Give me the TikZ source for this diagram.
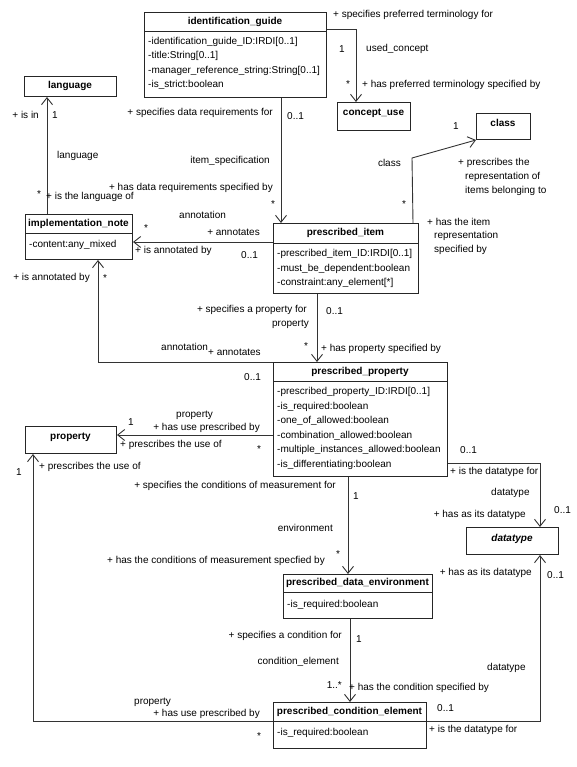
\documentclass[tikz,border=0pt]{standalone}
\usepackage{fontspec}
\setmainfont{Liberation Sans}
\usetikzlibrary{arrows.meta}
\tikzset{
  box/.style={draw=black!85, line width=1pt, anchor=north west, inner sep=0pt, fill=white},
  sep/.style={draw=black!85, line width=1pt},
  ttl/.style={font=\fontsize{10}{12}\selectfont\bfseries, inner sep=0pt},
  att/.style={font=\fontsize{10}{12}\selectfont, inner sep=0pt, anchor=west},
  lbl/.style={font=\fontsize{10}{12}\selectfont, inner sep=0pt, anchor=west},
  lble/.style={font=\fontsize{10}{12}\selectfont, inner sep=0pt, anchor=east},
  conn/.style={draw=black!80, line width=0.9pt},
  arr/.style={conn, -{Straight Barb[length=7pt,width=11pt]}}
}
\begin{document}
\begin{tikzpicture}[x=1pt,y=-1pt]
\useasboundingbox (0,0) rectangle (576,767);
\fill[white] (0,0) rectangle (576,767);

% ---------- boxes ----------
\node[box, minimum width=182pt, minimum height=85pt] (ig) at (144,12) {};
\draw[sep] ([yshift=-20pt]ig.north west) -- ([yshift=-20pt]ig.north east);
\node[ttl] (igt) at (235,22) {identification\_guide};
\node[att] (iga1) at (148,41.5) {-identification\_guide\_ID:IRDI[0..1]};
\node[att] (iga2) at (148,56) {-title:String[0..1]};
\node[att] (iga3) at (148,70.5) {-manager\_reference\_string:String[0..1]};
\node[att] (iga4) at (148,85) {-is\_strict:boolean};

\node[box, minimum width=92pt, minimum height=20pt] (lang) at (24,76) {};
\node[ttl] (langt) at (70,86) {language};

\node[box, minimum width=73pt, minimum height=28pt] (cu) at (337,102) {};
\node[ttl] (cut) at (373.5,113) {concept\_use};

\node[box, minimum width=54pt, minimum height=26pt] (cls) at (476,113) {};
\node[ttl] (clst) at (503,123) {class};

\node[box, minimum width=107pt, minimum height=45pt] (in) at (25,214) {};
\draw[sep] ([yshift=-19pt]in.north west) -- ([yshift=-19pt]in.north east);
\node[ttl] (int) at (78.5,224) {implementation\_note};
\node[att] (ina1) at (29,245) {-content:any\_mixed};

\node[box, minimum width=145pt, minimum height=70pt] (pi) at (273,223) {};
\draw[sep] ([yshift=-20pt]pi.north west) -- ([yshift=-20pt]pi.north east);
\node[ttl] (pit) at (345.5,233) {prescribed\_item};
\node[att] (pia1) at (277,254) {-prescribed\_item\_ID:IRDI[0..1]};
\node[att] (pia2) at (277,268.5) {-must\_be\_dependent:boolean};
\node[att] (pia3) at (277,283) {-constraint:any\_element[*]};

\node[box, minimum width=174pt, minimum height=114pt] (pp) at (273,362) {};
\draw[sep] ([yshift=-19pt]pp.north west) -- ([yshift=-19pt]pp.north east);
\node[ttl] (ppt) at (360,371.5) {prescribed\_property};
\node[att] (ppa1) at (277,392) {-prescribed\_property\_ID:IRDI[0..1]};
\node[att] (ppa2) at (277,406.5) {-is\_required:boolean};
\node[att] (ppa3) at (277,421) {-one\_of\_allowed:boolean};
\node[att] (ppa4) at (277,435.5) {-combination\_allowed:boolean};
\node[att] (ppa5) at (277,450) {-multiple\_instances\_allowed:boolean};
\node[att] (ppa6) at (277,464.5) {-is\_differentiating:boolean};

\node[box, minimum width=91pt, minimum height=27pt] (prop) at (25,426) {};
\node[ttl] (propt) at (70.5,437) {property};

\node[box, minimum width=92pt, minimum height=27pt] (dt) at (466,527) {};
\node[ttl, font=\fontsize{10}{12}\selectfont\bfseries\itshape] (dtt) at (512,539) {datatype};

\node[box, minimum width=149pt, minimum height=44pt] (pde) at (283,574) {};
\draw[sep] ([yshift=-18pt]pde.north west) -- ([yshift=-18pt]pde.north east);
\node[ttl] (pdet) at (357.5,583) {prescribed\_data\_environment};
\node[att] (pdea1) at (287,604.5) {-is\_required:boolean};

\node[box, minimum width=153pt, minimum height=46pt] (pce) at (273,702) {};
\draw[sep] ([yshift=-19pt]pce.north west) -- ([yshift=-19pt]pce.north east);
\node[ttl] (pcet) at (349.5,711.5) {prescribed\_condition\_element};
\node[att] (pcea1) at (277,733) {-is\_required:boolean};

% ---------- connectors ----------
% 1 identification_guide -> concept_use
\draw[arr] ([yshift=-17pt]ig.north east) -| ([xshift=19pt]cu.north west);
% 2 identification_guide -> prescribed_item
\draw[arr] ([xshift=137pt]ig.south west) -- ([xshift=8pt]pi.north west);
% 3 prescribed_item -> class
\coordinate (cbend) at (412,158);
\draw[arr] ([xshift=-6pt]pi.north east) -- (cbend) -- (cls.south west);
% 4 implementation_note -> language
\coordinate (c4) at ([xshift=22pt]in.north west);
\draw[arr] (c4) -- (c4 |- lang.south);
% 5 prescribed_item -> implementation_note
\coordinate (c5) at ([yshift=-19pt]pi.north west);
\draw[arr] (c5) -- (c5 -| in.east);
% 6 prescribed_property -> implementation_note
\coordinate (c6) at ([xshift=73pt]in.south west);
\draw[arr] (pp.north west) -| (c6);
% 7 prescribed_item -> prescribed_property
\draw[arr] ([xshift=44pt]pi.south west) -- ([xshift=44pt]pp.north west);
% 8 prescribed_property -> property
\coordinate (c8) at ([yshift=-73pt]pp.north west);
\draw[arr] (c8) -- (c8 -| prop.east);
% 9 prescribed_property -> datatype
\draw[arr] ([yshift=-101pt]pp.north east) -| ([xshift=74pt]dt.north west);
% 10 prescribed_property -> prescribed_data_environment
\coordinate (c10) at ([xshift=75pt]pp.south west);
\draw[arr] (c10) -- (c10 |- pde.north);
% 11 prescribed_data_environment -> prescribed_condition_element
\coordinate (c11) at ([xshift=67pt]pde.south west);
\draw[arr] (c11) -- (c11 |- pce.north);
% 12 prescribed_condition_element -> property
\draw[arr] ([yshift=-19pt]pce.north west) -| ([xshift=8pt]prop.south west);
% 13 prescribed_condition_element -> datatype
\draw[arr] ([yshift=-19pt]pce.north east) -| ([xshift=74pt]dt.south west);

% ---------- labels ----------
% 1
\node[lbl] (l1a) at (333,15) {+ specifies preferred terminology for};
\node[lbl] (l1b) at (339,49) {1};
\node[lbl] (l1c) at (366,49) {used\_concept};
\node[lbl] (l1d) at (346,84) {*};
\node[lbl] (l1e) at (362,85) {+ has preferred terminology specified by};
% 2
\node[lble] (l2a) at (273,113) {+ specifies data requirements for};
\node[lbl] (l2b) at (287,116) {0..1};
\node[lble] (l2c) at (270,161) {item\_specification};
\node[lble] (l2d) at (273,188) {+ has data requirements specified by};
\node[lbl] (l2e) at (271,204) {*};
% 3
\node[lble] (l3a) at (401,163) {class};
\node[lbl] (l3b) at (402,204) {*};
\node[lbl] (l3c) at (453,126) {1};
\node[lbl] (l3d) at (458,163) {+ prescribes the};
\node[lbl] (l3e) at (465,177) {representation of};
\node[lbl] (l3f) at (465,191) {items belonging to};
\node[lbl] (l3g) at (427,222) {+ has the item};
\node[lbl] (l3h) at (434,236) {representation};
\node[lbl] (l3i) at (434,250) {specified by};
% 4
\node[lble] (l4a) at (39,115) {+ is in};
\node[lbl] (l4b) at (52,115) {1};
\node[lbl] (l4c) at (57,156) {language};
\node[lbl] (l4d) at (37,194) {*};
\node[lbl] (l4e) at (46,197) {+ is the language of};
% 5
\node[lbl] (l5a) at (179,215) {annotation};
\node[lble] (l5b) at (260,232) {+ annotates};
\node[lbl] (l5c) at (144,228) {*};
\node[lbl] (l5d) at (135,251) {+ is annotated by};
\node[lbl] (l5e) at (241,255) {0..1};
% 6
\node[lble] (l6a) at (90,278) {+ is annotated by};
\node[lbl] (l6b) at (103,278) {*};
\node[lbl] (l6c) at (161,347) {annotation};
\node[lbl] (l6d) at (208,352) {+ annotates};
\node[lbl] (l6e) at (244,377) {0..1};
% 7
\node[lble] (l7a) at (307,310) {+ specifies a property for};
\node[lble] (l7b) at (309,324) {property};
\node[lbl] (l7c) at (326,311) {0..1};
\node[lbl] (l7d) at (304,346) {*};
\node[lbl] (l7e) at (321,349) {+ has property specified by};
% 8
\node[lbl] (l8a) at (128,422) {1};
\node[lbl] (l8b) at (176,415.5) {property};
\node[lble] (l8c) at (260,428) {+ has use prescribed by};
\node[lbl] (l8d) at (120,445) {+ prescribes the use of};
\node[lbl] (l8e) at (257,449) {*};
% 9
\node[lbl] (l9a) at (460,450) {0..1};
\node[lbl] (l9b) at (450,472) {+ is the datatype for};
\node[lbl] (l9c) at (491,493) {datatype};
\node[lble] (l9d) at (526,515) {+ has as its datatype};
\node[lbl] (l9e) at (554,510) {0..1};
% 10
\node[lble] (l10a) at (336,486) {+ specifies the conditions of measurement for};
\node[lbl] (l10b) at (353,496) {1};
\node[lble] (l10c) at (333,528) {environment};
\node[lble] (l10d) at (325,561) {+ has the conditions of measurement specfied by};
\node[lbl] (l10e) at (336,554) {*};
% 11
\node[lble] (l11a) at (342,636) {+ specifies a condition for};
\node[lbl] (l11b) at (356,639) {1};
\node[lble] (l11c) at (339,662) {condition\_element};
\node[lble] (l11d) at (342,685) {1..*};
\node[lbl] (l11e) at (349,688) {+ has the condition specified by};
% 12
\node[lbl] (l12a) at (134,702.5) {property};
\node[lble] (l12b) at (260,714) {+ has use prescribed by};
\node[lbl] (l12c) at (257,736) {*};
\node[lbl] (l12d) at (16,472) {1};
\node[lbl] (l12e) at (39,467) {+ prescribes the use of};
% 13
\node[lbl] (l13a) at (437,708) {0..1};
\node[lbl] (l13b) at (429,730) {+ is the datatype for};
\node[lbl] (l13c) at (487,668) {datatype};
\node[lble] (l13d) at (532,573) {+ has as its datatype};
\node[lbl] (l13e) at (547,575) {0..1};
\end{tikzpicture}
\end{document}
